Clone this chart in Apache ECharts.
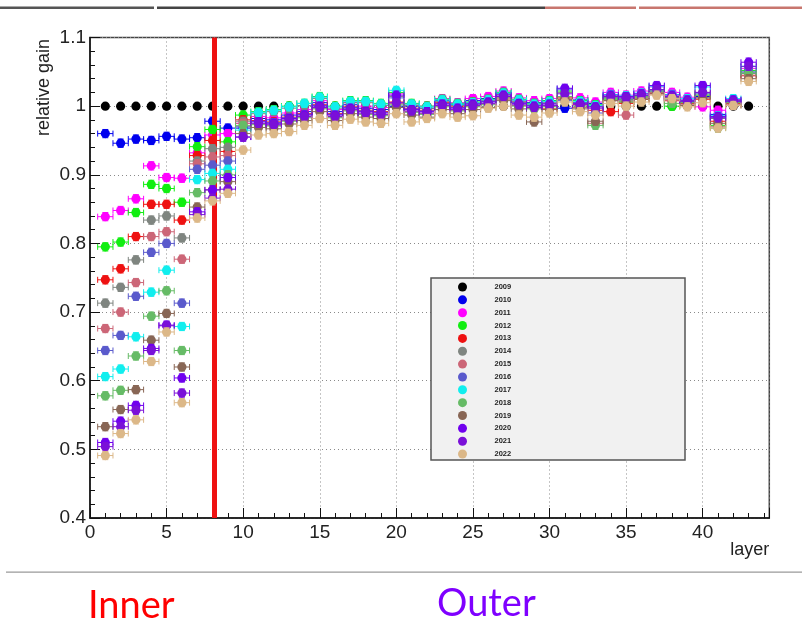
<!DOCTYPE html>
<html>
<head>
<meta charset="utf-8">
<script src="https://cdn.jsdelivr.net/npm/echarts@6/dist/echarts.min.js"></script>
<style>
html,body{margin:0;padding:0;background:#fff;}
#chart{width:802px;height:625px;}
</style>
</head>
<body>
<div id="chart"></div>
<script>
// ---- data ----
const layers = [1,2,3,4,5,6,7,8,9,10,11,12,13,14,15,16,17,18,19,20,21,22,23,24,25,26,27,28,29,30,31,32,33,34,35,36,37,38,39,40,41,42,43];
const years = ['2009','2010','2011','2012','2013','2014','2015','2016','2017','2018','2019','2020','2021','2022'];
const yearColors = ['#000000','#0000ee','#ff00ff','#11ee11','#ee1111','#7f8580','#cc6677','#5a5acc','#11eeee','#66bb66','#886655','#7000ee','#7a10d8','#dcb888'];
const xTicks = [0,5,10,15,20,25,30,35,40];
const yTicks = [0.4,0.5,0.6,0.7,0.8,0.9,1.0,1.1];
const innerBoundary = 8.1;

const g2009 = [1,1,1,1,1,1,1,1,1,1,1,1,1,1,1,1,1,1,1,1,1,1,1,1,1,1,1,1,1,1,1,1,1,1,1,1,1,1,1,1,1,1,1];
const g2010 = [.960,.946,.952,.950,.956,.952,.954,.978,.968,.968,
 .982,.980,.987,.992,1.005,.992,1.002,.997,.995,1.000,1.000,.997,1.008,1.002,1.008,1.011,1.018,1.009,1.005,1.008,.997,1.009,1.004,1.012,1.010,1.015,1.022,1.012,1.006,1.014,.988,1.006,1.048];
const g2011 = [.839,.848,.865,.913,.896,.895,.932,.958,.960,.975,
 .985,.983,.990,.995,1.008,.995,1.005,1.000,.998,1.018,1.003,1.000,1.011,1.005,1.011,1.014,1.022,1.012,1.008,1.011,1.024,1.012,1.006,1.020,1.016,1.022,1.028,1.020,1.013,.999,.994,1.010,1.055];
const g2012 = [.795,.802,.845,.886,.880,.860,.941,.966,.948,.987,
 .992,.995,1.000,1.004,1.014,1.000,1.008,1.008,1.004,1.020,1.004,1.000,1.010,1.004,1.006,1.010,1.020,1.010,1.004,1.008,1.022,1.008,1.002,1.010,1.006,1.012,1.020,1.000,1.006,1.016,.972,1.006,1.052];
const g2013 = [.747,.763,.810,.857,.857,.834,.928,.950,.934,.980,
 .979,.977,.984,.989,1.002,.989,.999,.994,.992,1.006,.997,.994,1.005,.999,1.005,1.008,1.012,1.006,1.002,.996,1.012,1.002,.994,.992,1.004,1.010,1.018,1.008,1.004,1.010,.978,1.004,1.045];
const g2014 = [.713,.736,.776,.834,.840,.808,.920,.938,.940,.978,
 .989,.992,.997,1.001,1.011,.997,1.005,1.005,1.001,1.014,1.001,.997,1.007,1.001,1.003,1.007,1.017,1.007,1.001,1.005,1.020,1.005,.999,1.012,1.008,1.014,1.024,1.010,1.008,1.020,.982,1.008,1.048];
const g2015 = [.676,.700,.743,.810,.817,.777,.916,.926,.928,.975,
 .974,.972,.979,.984,.997,.984,.994,.989,.987,1.004,.992,.989,1.000,.994,1.000,1.003,1.010,1.001,.997,1.000,1.010,.998,.975,1.008,.987,1.012,1.020,1.008,1.002,1.012,.970,1.002,1.044];
const g2016 = [.644,.666,.723,.787,.800,.713,.908,.914,.920,.970,
 .978,.976,.983,.988,1.001,.988,.998,.993,.991,1.012,.996,.993,1.004,.998,1.004,1.007,1.014,1.005,1.001,1.004,1.008,1.005,.990,1.014,1.012,1.016,1.024,1.014,1.008,1.018,.984,1.008,1.050];
const g2017 = [.606,.617,.664,.729,.761,.679,.893,.902,.908,.965,
 .991,.994,.999,1.004,1.013,.999,1.007,1.007,1.003,1.023,1.003,.999,1.009,1.003,1.005,1.009,1.019,1.009,1.003,1.007,1.025,1.007,1.001,1.017,1.015,1.019,1.029,1.017,1.011,1.028,.986,1.011,1.058];
const g2018 = [.578,.586,.636,.694,.731,.644,.874,.891,.900,.972,
 .973,.971,.978,.983,.996,.983,.993,.988,.986,1.002,.991,.988,.999,.993,.999,1.002,1.012,1.000,.996,.999,1.014,1.000,.972,1.012,1.010,1.014,1.022,1.004,1.005,1.016,.968,1.005,1.048];
const g2019 = [.533,.558,.587,.659,.698,.620,.853,.878,.890,.960,
 .969,.967,.974,.979,.992,.979,.989,.984,.982,.998,.987,.984,.995,.989,.995,.998,1.008,.996,.977,.995,1.010,.996,.978,1.008,1.006,1.010,1.018,1.012,1.001,1.012,.975,1.001,1.040];
const g2020 = [.510,.541,.564,.647,.681,.604,.846,.878,.896,.955,
 .977,.975,.982,.987,1.000,.987,.997,.992,.990,1.016,.995,.992,1.003,.997,1.003,1.006,1.016,1.004,1.000,1.003,1.026,1.004,.999,1.016,1.014,1.018,1.030,1.016,1.009,1.030,.985,1.009,1.064];
const g2021 = [.504,.533,.557,.644,.680,.582,.842,.866,.879,.955,
 .975,.973,.980,.985,.998,.985,.995,.990,.988,1.005,.993,.990,1.001,.995,1.001,1.004,1.014,1.002,.998,1.001,1.018,1.002,.997,1.014,1.012,1.016,1.024,1.014,1.007,1.020,.983,1.007,1.058];
const g2022 = [.491,.523,.543,.628,.671,.568,.837,.862,.873,.936,
 .958,.960,.963,.972,.982,.972,.981,.977,.975,.989,.977,.982,.989,.984,.986,.997,1.000,.987,.984,.990,1.006,.992,.987,1.004,1.000,1.006,1.016,1.011,.999,1.005,.968,1.001,1.036];

const gains = [g2009,g2010,g2011,g2012,g2013,g2014,g2015,g2016,g2017,g2018,g2019,g2020,g2021,g2022];
const xErr = 0.5;     // half layer width
const yErr = 0.006;   // statistical error

function makeRender(withErr){
  return function(params, api){
    const x = api.value(0), y = api.value(1);
    const c = api.coord([x, y]);
    const color = api.visual('color');
    const kids = [];
    if (withErr){
      const l = api.coord([x - xErr, y]), r = api.coord([x + xErr, y]);
      const t = api.coord([x, y + yErr]), b = api.coord([x, y - yErr]);
      const st = {stroke: color, lineWidth: 1};
      kids.push({type:'line', shape:{x1:l[0], y1:l[1], x2:r[0], y2:r[1]}, style: st});
      kids.push({type:'line', shape:{x1:l[0], y1:l[1]-3, x2:l[0], y2:l[1]+3}, style: st});
      kids.push({type:'line', shape:{x1:r[0], y1:r[1]-3, x2:r[0], y2:r[1]+3}, style: st});
      kids.push({type:'line', shape:{x1:t[0], y1:t[1], x2:b[0], y2:b[1]}, style: st});
      kids.push({type:'line', shape:{x1:t[0]-3, y1:t[1], x2:t[0]+3, y2:t[1]}, style: st});
      kids.push({type:'line', shape:{x1:b[0]-3, y1:b[1], x2:b[0]+3, y2:b[1]}, style: st});
    }
    kids.push({type:'circle', shape:{cx:c[0], cy:c[1], r:4.6}, style:{fill: color}});
    return {type:'group', children: kids};
  };
}

const series = years.map((yr, i) => ({
  name: yr,
  type: 'custom',
  renderItem: makeRender(i !== 0),
  itemStyle: {color: yearColors[i]},
  encode: {x: 0, y: 1},
  data: layers.map((L, k) => [L, gains[i][k]]),
  z: 2 + i
}));
series.push({
  name: 'boundary', type: 'line', data: [], z: 30,
  markLine: {
    silent: true, symbol: ['none','none'], label: {show: false}, animation: false,
    lineStyle: {color: '#ee1111', width: 5, type: 'solid'},
    data: [{xAxis: innerBoundary}]
  }
});

const chart = echarts.init(document.getElementById('chart'), null, {renderer: 'canvas'});
const axisFont = 'Liberation Sans';
chart.setOption({
  animation: false,
  backgroundColor: '#ffffff',
  grid: {left: 90, right: 32.7, top: 37.5, bottom: 107, show: true, borderColor: '#444', borderWidth: 1.5, backgroundColor: 'transparent'},
  xAxis: {
    type: 'value', min: 0, max: 44.35, interval: 5,
    axisLine: {show: true, lineStyle: {color: '#111', width: 1.5}},
    axisTick: {show: true, inside: true, length: 10, lineStyle: {color: '#111'}},
    minorTick: {show: true, splitNumber: 5, length: 5, lineStyle: {color: '#111'}},
    splitLine: {show: true, lineStyle: {color: '#8a8a8a', type: [1,3], width: 1}},
    axisLabel: {color: '#222', fontSize: 19, fontFamily: axisFont, margin: 5,
      formatter: v => (xTicks.indexOf(v) >= 0 ? String(v) : '')},
    name: 'layer', nameLocation: 'end', nameGap: 0,
    nameTextStyle: {color: '#222', fontSize: 18, fontFamily: axisFont, align: 'right', verticalAlign: 'top', padding: [23,0,0,0]}
  },
  yAxis: {
    type: 'value', min: 0.4, max: 1.1, interval: 0.1,
    axisLine: {show: true, lineStyle: {color: '#111', width: 1.5}},
    axisTick: {show: true, inside: true, length: 10, lineStyle: {color: '#111'}},
    minorTick: {show: true, splitNumber: 5, length: 5, lineStyle: {color: '#111'}},
    splitLine: {show: true, lineStyle: {color: '#8a8a8a', type: [1,3], width: 1}},
    axisLabel: {color: '#222', fontSize: 19, fontFamily: axisFont, margin: 4,
      formatter: v => String(Number(v.toFixed(2)))}
  },
  legend: {
    data: years, orient: 'vertical', left: 453, top: 277.5,
    icon: 'circle', itemWidth: 54, itemHeight: 9, itemGap: 3.85,
    textStyle: {fontSize: 7.5, color: '#222', fontFamily: axisFont, fontWeight: 'bold', lineHeight: 9},
    selectedMode: false, z: 20
  },
  graphic: [
    {type: 'rect', z: 10, shape: {x: 431, y: 278, width: 254, height: 182}, style: {fill: '#f1f1f1', stroke: '#555', lineWidth: 1.5}},
    {type: 'text', z: 10, x: 44, y: 39, rotation: Math.PI/2,
      style: {text: 'relative gain', fill: '#222', font: '18px "Liberation Sans"', align: 'right', verticalAlign: 'middle'}},
    {type: 'rect', shape: {x: 0, y: 6.5, width: 154, height: 2.5}, style: {fill: '#555'}},
    {type: 'rect', shape: {x: 157, y: 6.5, width: 388, height: 2.5}, style: {fill: '#444'}},
    {type: 'rect', shape: {x: 545, y: 6.5, width: 91, height: 2.5}, style: {fill: '#c8766e'}},
    {type: 'rect', shape: {x: 639, y: 6.5, width: 163, height: 2.5}, style: {fill: '#c8766e'}},
    {type: 'rect', shape: {x: 6, y: 571.5, width: 796, height: 1.2}, style: {fill: '#9a9a9a'}},
    {type: 'text', x: 88, y: 606, style: {text: 'Inner', fill: '#ff0000', font: '38px Lato', align: 'left', verticalAlign: 'middle'}},
    {type: 'text', x: 437, y: 604, style: {text: 'Outer', fill: '#7f00ff', font: '38px Lato', align: 'left', verticalAlign: 'middle'}}
  ],
  series: series
});
</script>
</body>
</html>
